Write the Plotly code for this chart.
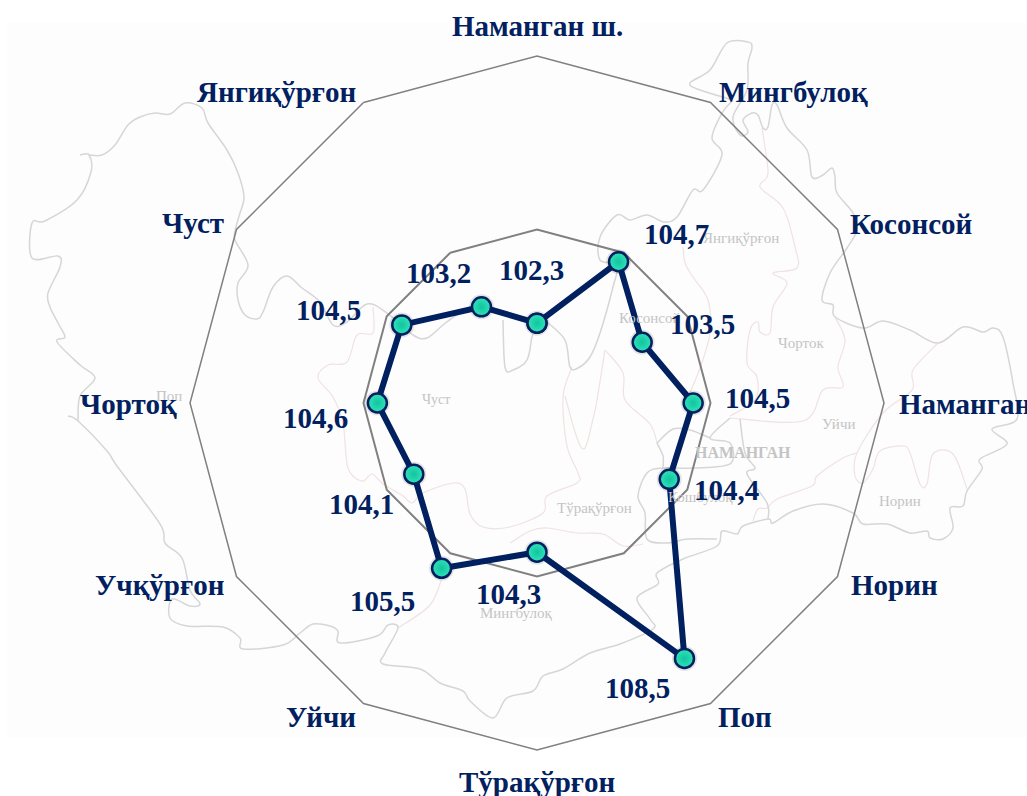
import plotly.graph_objects as go

W, H = 1027, 796
CX, CY, R = 537, 403, 347

districts = ["Наманган ш.", "Мингбулоқ", "Косонсой", "Наманган", "Норин", "Поп",
             "Тўрақўрғон", "Уйчи", "Учқўрғон", "Чортоқ", "Чуст", "Янгиқўрғон"]
values = [102.3, 104.7, 103.5, 104.5, 104.4, 108.5, 104.3, 105.5, 104.1, 104.6, 104.5, 103.2]

# Placement of the value labels (pixel centres in the page)
value_label_xy = [(531, 270), (676, 234), (702, 324), (757, 398), (726, 490), (637, 688),
                  (508, 594), (382, 601), (361, 504), (315, 418), (328, 310), (438, 273)]
# Placement of the category labels (x, anchor, y centre)
category_label_xy = [(537, "center", 26), (719, "left", 92), (850, "left", 224), (899, "left", 404),
                     (851, "left", 585), (718, "left", 717), (537, "center", 782), (356, "right", 717),
                     (224, "right", 585), (177, "right", 404), (224, "right", 223), (356, "right", 92)]

NAVY = "#002060"

# Faint background map (decorative artwork, page pixels)
map_grey = [
    [(89,155),(102,155),(115,145),(128,125),(140,117),(155,113),(170,114),(185,103),(202,108),(208,123),(227,150),
     (238,173),(244,197),(240,213),(236,227),(235,240),(248,265),(238,283),(238,300),(245,315),(257,319),(263,312),
     (273,287),(287,276),(302,288),(320,302),(333,325),(347,322),(367,304),(387,313),(413,335),(427,338),(443,325),
     (457,315),(470,312)],
    [(503,320),(505,367),(513,370),(527,360),(532,337),(537,322)],
    [(547,322),(565,340),(570,367),(578,368),(590,357),(600,333),(613,287),(617,265),(600,260),(600,237),(617,215),
     (630,220),(647,215),(664,222),(677,217),(693,190),(703,190),(722,155),(712,138),(722,113),(733,100)],
    [(733,100),(700,90),(690,83),(710,70),(727,43),(748,42),(752,48),(748,63),(747,90),(733,117),(740,135),(748,132),
     (743,120),(752,113),(758,115),(763,128),(768,127),(772,105),(777,105),(787,128),(807,150),(812,177),(823,175),
     (832,168),(835,177),(837,193),(853,213),(857,230),(847,248),(830,273),(822,300),(833,305),(835,317),(863,328),
     (883,321),(910,330),(938,343),(963,327),(983,332),(993,328),(1003,337),(1013,383),(1017,419),(992,429),(1007,444),
     (980,459),(982,469),(967,491),(963,506),(950,508),(953,528),(943,539),(930,538),(927,531),(910,533),(887,524),
     (863,524),(853,513),(823,504),(793,511),(773,523),(768,519),(743,526),(737,534),(722,531),(717,546),(683,559),
     (657,573),(658,584),(637,598),(650,619),(653,629),(620,644),(590,653),(563,669),(543,676),(533,691),(507,698),
     (493,718),(470,701),(463,691),(440,683),(420,669),(383,664),(385,653),(398,628),(388,625),(377,636),(340,643),
     (338,631),(330,626),(313,624),(300,633),(283,645),(243,649),(240,638),(223,627),(187,626),(170,618),(172,599),
     (190,606),(200,604),(190,590),(182,558),(165,543),(160,524),(117,466),(107,451),(78,421),(68,416)],
    [(78,421),(80,396),(95,378),(80,365),(57,342),(65,337),(58,323),(50,307),(48,293),(60,267),(58,256),(32,258),
     (32,223),(45,221),(77,200),(91,172),(89,155),(80,155)],
    [(730,418),(710,438),(730,443),(730,464),(693,468),(663,468),(647,473),(638,496),(645,513),(647,539),(667,543),
     (687,539),(717,539)],
    [(657,443),(663,456),(663,468)],
    [(657,443),(673,429),(690,430),(710,438)],
    [(740,419),(745,453),(755,468),(747,474),(767,503),(768,519)],
]
map_pink = [
    [(373,307),(373,333),(357,335),(347,362),(328,365),(318,378),(333,397),(343,423),(348,468),(362,481),(372,474),
     (383,484),(403,496),(412,503),(423,493),(453,483),(465,489),(470,514),(483,527),(510,527),(543,513),(547,496),
     (577,483),(578,473),(567,446),(563,397),(572,367)],
    [(510,543),(530,531),(547,528),(577,533),(603,534),(623,546),(643,544)],
    [(605,350),(623,373),(625,400),(650,424),(657,443)],
    [(605,350),(597,400),(593,419),(585,448),(577,438),(565,396)],
    [(683,247),(685,263),(693,277),(708,300),(710,333),(700,368),(688,397)],
    [(762,128),(768,173),(760,187),(783,208),(795,247),(797,268),(773,273),(787,283),(773,307),(770,333),(760,332),
     (758,322),(750,330),(747,363),(757,377),(755,400),(730,416)],
    [(835,317),(845,340),(838,367),(843,387),(823,390),(803,421),(730,418)],
    [(938,343),(913,370),(912,390),(883,413),(857,453),(855,476),(863,483),(873,469),(880,451),(903,446),(910,453),
     (920,484),(927,484),(933,454),(953,454),(967,489)],
    [(857,453),(843,458),(817,476),(812,486),(777,499),(767,508),(758,509),(753,521)],
    [(443,575),(430,605),(398,628)],
]
map_labels = [("Янгиқўрғон", 741, 238, 15, False), ("Косонсой", 650, 318, 15, False), ("Чорток", 801, 343, 15, False),
              ("Уйчи", 838, 424, 15, False), ("НАМАНГАН", 743, 452, 16, True), ("Норин", 900, 501, 15, False),
              ("Поп", 169, 396, 15, False), ("Чуст", 436, 400, 14, False), ("Тўрақўрғон", 594, 508, 15, False),
              ("Мингбулоқ", 516, 613, 15, False), ("Кошбулоқ", 700, 497, 15, False)]


def px(x):
    return x / W


def py(y):
    return 1 - y / H


def smooth_path(pts):
    def f(p):
        return f"{px(p[0]):.5f},{py(p[1]):.5f}"
    d = "M" + f(pts[0])
    for i in range(len(pts) - 1):
        p0 = pts[max(i - 1, 0)]
        p1, p2 = pts[i], pts[i + 1]
        p3 = pts[min(i + 2, len(pts) - 1)]
        c1 = (p1[0] + (p2[0] - p0[0]) / 6, p1[1] + (p2[1] - p0[1]) / 6)
        c2 = (p2[0] - (p3[0] - p1[0]) / 6, p2[1] - (p3[1] - p1[1]) / 6)
        d += f" C{f(c1)} {f(c2)} {f(p2)}"
    return d


shapes = [dict(type="rect", xref="paper", yref="paper", x0=px(7), x1=1, y0=py(737), y1=py(23),
               fillcolor="#fdfdfd", line_width=0, layer="below")]
for seg in map_pink:
    shapes.append(dict(type="path", xref="paper", yref="paper", path=smooth_path(seg),
                       line=dict(color="#f0e2e2", width=1.2), layer="below"))
for seg in map_grey:
    shapes.append(dict(type="path", xref="paper", yref="paper", path=smooth_path(seg),
                       line=dict(color="#d6d6d6", width=1.5), layer="below"))

annotations = []
for txt, x, y, s, b in map_labels:
    annotations.append(dict(xref="paper", yref="paper", x=px(x), y=py(y), text=f"<b>{txt}</b>" if b else txt,
                            showarrow=False, xanchor="center", yanchor="middle",
                            font=dict(family="Liberation Serif", size=s, color="#c4c4c4")))
for v, (x, y) in zip(values, value_label_xy):
    annotations.append(dict(xref="paper", yref="paper", x=px(x), y=py(y), text=f"<b>{str(v).replace('.', ',')}</b>",
                            showarrow=False, xanchor="center", yanchor="middle",
                            font=dict(family="Liberation Serif", size=29, color=NAVY)))
for name, (x, anchor, y) in zip(districts, category_label_xy):
    annotations.append(dict(xref="paper", yref="paper", x=px(x), y=py(y), text=f"<b>{name}</b>",
                            showarrow=False, xanchor=anchor, yanchor="middle", borderpad=0, borderwidth=0,
                            font=dict(family="Liberation Serif", size=29, color=NAVY)))

fig = go.Figure()
fig.add_trace(go.Scatterpolar(
    r=values, theta=districts, mode="markers",
    marker=dict(size=25, color="rgba(0,0,0,0.10)", line_width=0),
    showlegend=False, hoverinfo="skip"))
fig.add_trace(go.Scatterpolar(
    r=values + values[:1], theta=districts + districts[:1], mode="lines+markers",
    line=dict(color=NAVY, width=6),
    marker=dict(size=19, color="#2fe3ba", line=dict(color=NAVY, width=2.5),
                gradient=dict(type="radial", color="#12c49f")),
    showlegend=False, hoverinfo="skip"))

fig.update_layout(
    width=W, height=H, margin=dict(l=0, r=0, t=0, b=0), paper_bgcolor="white", showlegend=False,
    shapes=shapes, annotations=annotations,
    polar=dict(
        domain=dict(x=[px(CX - R), px(CX + R)], y=[py(CY + R), py(CY - R)]),
        bgcolor="rgba(0,0,0,0)", gridshape="linear",
        radialaxis=dict(range=[100, 110], dtick=5, showticklabels=False, ticks="", showline=False,
                        gridcolor="#808080", gridwidth=1.5),
        angularaxis=dict(direction="clockwise", rotation=90, type="category", categoryorder="array",
                         categoryarray=districts, showgrid=False, ticks="", showline=True,
                         linecolor="#808080", linewidth=1.5, showticklabels=False),
    ),
)
fig.write_html("out.html", config=dict(displayModeBar=False),
               post_script="document.body.style.margin='0';document.body.style.overflow='hidden';")
